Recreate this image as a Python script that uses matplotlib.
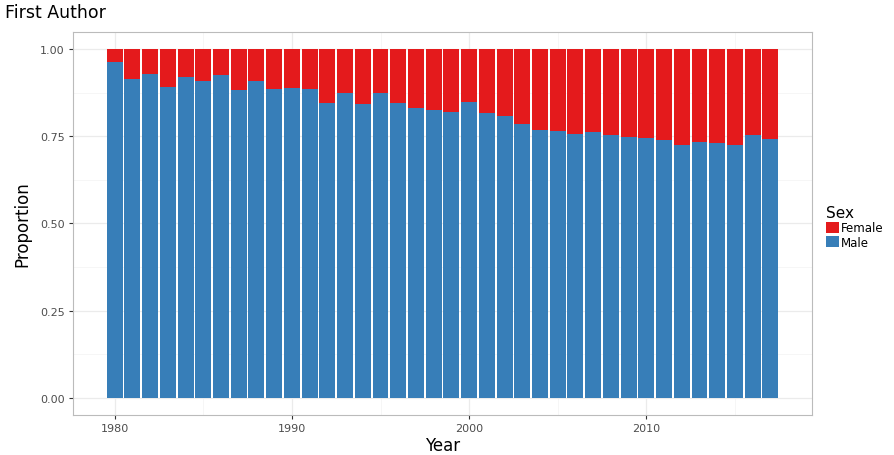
import matplotlib.pyplot as plt
import numpy as np

years = list(range(1980, 2018))
male = [0.964, 0.916, 0.929, 0.891, 0.922, 0.908, 0.927, 0.882, 0.910, 0.886,
        0.888, 0.887, 0.846, 0.874, 0.843, 0.876, 0.846, 0.833, 0.827, 0.821,
        0.850, 0.818, 0.810, 0.786, 0.769, 0.766, 0.756, 0.764, 0.754, 0.748,
        0.745, 0.739, 0.724, 0.735, 0.731, 0.724, 0.755, 0.743]
female = [1 - m for m in male]

red = '#E41A1C'
blue = '#377EB8'

fig = plt.figure(figsize=(8.94, 4.56), dpi=100)
ax = fig.add_axes([0.0817, 0.0877, 0.8266, 0.840])

ax.bar(years, male, width=0.9, color=blue, label='Male', zorder=2)
ax.bar(years, female, width=0.9, bottom=male, color=red, label='Female', zorder=2)

ax.set_xlim(1977.65, 2019.35)
ax.set_ylim(-0.05, 1.05)
ax.set_xticks([1980, 1990, 2000, 2010])
ax.set_xticks([1985, 1995, 2005, 2015], minor=True)
ax.set_yticks([0, 0.25, 0.5, 0.75, 1.0])
ax.set_yticklabels(['0.00', '0.25', '0.50', '0.75', '1.00'])
ax.set_yticks([0.125, 0.375, 0.625, 0.875], minor=True)
ax.grid(True, which='major', color='#EBEBEB', linewidth=0.9, zorder=0)
ax.grid(True, which='minor', color='#F5F5F5', linewidth=0.6, zorder=0)
ax.tick_params(which='major', labelsize=8, labelcolor='#4D4D4D', color='#333333',
               length=3, pad=3)
ax.tick_params(which='minor', length=0)
for s in ax.spines.values():
    s.set_color('#BBBBBB')

ax.set_xlabel('Year', fontsize=12, labelpad=2)
ax.set_ylabel('Proportion', fontsize=12, labelpad=6)

fig.text(0.006, 0.952, 'First Author', fontsize=12.5, ha='left', va='bottom')

handles, labels = ax.get_legend_handles_labels()
leg = fig.legend(handles[::-1], labels[::-1], title='Sex', loc='center left',
                 bbox_to_anchor=(0.917, 0.5), frameon=False, fontsize=8.5,
                 title_fontsize=11, handlelength=1.1, handleheight=1.1,
                 handletextpad=0.2, labelspacing=0.1, borderpad=0)
leg._legend_box.align = 'left'

fig.savefig('out.png', dpi=100)
